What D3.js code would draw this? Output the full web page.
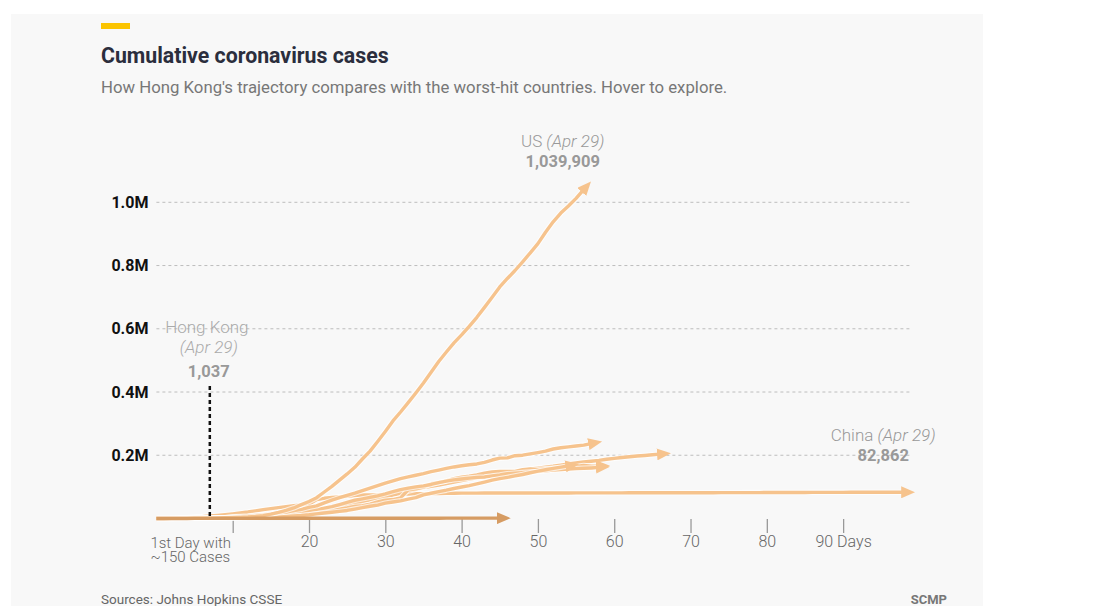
<!DOCTYPE html>
<html>
<head>
<meta charset="utf-8">
<script src="https://cdn.jsdelivr.net/npm/d3@7"></script>
<style>
  body { margin: 0; background: #fff; }
  text { font-family: Roboto, 'Noto Sans', sans-serif; }
</style>
</head>
<body>
<div id="chart-area"></div>
<script>
// cumulative cases, one value per day since each place's 1st day with ~150 cases
var chinaCases = [571, 830, 1287, 1975, 2744, 4515, 5974, 7711, 9692, 11791,
  14380, 17205, 20438, 24324, 28018, 31161, 34546, 37198, 40171, 42638, 44653, 59804, 63851, 66492, 68500,
  70548, 72436, 74185, 74576, 75077, 76288, 76936, 77150, 77658, 78064, 78497, 78824, 79251, 79824,
  80026, 80151, 80270, 80409, 80552, 80651, 80695, 80735, 80754, 80778, 80793, 80813, 80824, 80844, 80860,
  80881, 80894, 80928, 80967, 81008, 81054, 81093, 81171, 81218, 81285, 81340, 81394, 81439, 81470, 81518, 81554,
  81589, 81620, 81639, 81669, 81708, 81740, 81802, 81865, 81907, 81953, 82052, 82160, 82249, 82295, 82341,
  82367, 82692, 82719, 82735, 82747, 82758, 82788, 82798, 82804, 82816, 82827, 82830, 82836, 82862];
var italyCases = [155, 229, 322, 453, 655, 888, 1128,
  1694, 2036, 2502, 3089, 3858, 4636, 5883, 7375, 9172, 10149, 12462, 12462, 17660, 21157, 24747, 27980,
  31506, 35713, 41035, 47021, 53578, 59138, 63927, 69176, 74386, 80589, 86498, 92472, 97689, 101739, 105792,
  110574, 115242, 119827, 124632, 128948, 132547, 135586, 139422, 143626, 147577, 152271, 156363, 159516,
  162488, 165155, 168941, 172434, 175925, 178972, 181228, 183957, 187327, 189973, 192994, 195351, 197675,
  199414, 201505, 203591];
var franceCases = [191, 204, 288, 380, 656, 959, 1136, 1219, 1794, 2293, 2293, 3681, 4496, 4532, 6683,
  7715, 9124, 10970, 12758, 14463, 16243, 20123, 22622, 25600, 29551, 33402, 38105, 40708, 45170, 52827,
  57749, 59929, 65202, 90848, 93773, 98963, 110065, 113959, 118781, 125931, 130727, 133678, 137875, 143303,
  147091, 149130, 149149, 149150, 154188, 156921, 154715, 157026, 158636, 160292, 160847, 164589, 167605,
  165093, 165764];
var germanyCases = [159, 196, 262, 482, 670, 799, 1040, 1176, 1457, 1908, 2078, 3675, 4585, 5795, 7272,
  9257, 12327, 15320, 19848, 22213, 24873, 29056, 32986, 37323, 43938, 50871, 57695, 62095, 66885, 71808,
  77872, 84794, 91159, 96092, 100123, 103374, 107663, 113296, 118181, 122171, 124908, 127854, 130072,
  131359, 134753, 137698, 141397, 143342, 145184, 147065, 148291, 150648, 153129, 154999, 156513, 157770,
  158758, 159912, 161539];
var ukCases = [164, 207, 274, 322, 384, 459, 459, 802, 1144, 1145, 1551, 1960, 2642, 2716, 4014, 5067,
  5745, 6726, 8164, 9640, 11812, 14745, 17312, 19780, 22453, 25481,
  29865, 34173, 38689, 42477, 48436, 52279, 55949, 61474, 65872, 74605, 79874, 85206, 89570, 94845, 99483,
  104145, 109769, 115314, 121172, 125856, 130172, 134638, 139246, 144640, 149569, 154037, 158348, 162350,
  166441];
var spainCases = [165, 222, 259, 400, 500, 673, 1073, 1695, 2277, 2277, 5232, 6391, 7798, 9942, 11748,
  13910, 17963, 20410, 25374, 28768, 35136, 39885, 49515, 57786, 65719, 73235, 80110, 87956, 95923,
  104118, 112065, 119199, 126168, 131646, 136675, 141942, 148220, 153222, 158273, 163027, 166831, 170099,
  172541, 177644, 184948, 190839, 191726, 198674, 200210, 204178, 208389, 213024, 219764, 223759, 226629,
  229422, 232128, 236899];
var usCases = [158, 221, 319, 435, 541, 704, 994, 1301, 1630, 2183, 2770, 3613, 4596, 6344, 9197,
  13779, 19273, 25600, 33276, 43847, 53740, 65778, 83836, 101657, 121465, 140909, 161831, 188172,
  213242, 243622, 275367, 308650, 336802, 366317, 397121, 428654, 462780, 496535, 526396, 555313, 580619,
  607670, 636350, 667592, 699706, 732197, 759086, 784326, 811865, 840351, 869170, 905358, 938154, 965785,
  988197, 1012582, 1039909];
var hkCases = [148, 157, 162, 192, 208, 256, 273, 317, 356, 386, 410, 453, 518, 582, 641, 682, 715, 765,
  802, 845, 862, 890, 915, 935, 960, 973, 989, 1000, 1004, 1009, 1012, 1016, 1017, 1021, 1024, 1025, 1026,
  1029, 1033, 1034, 1035, 1036, 1036, 1037, 1037, 1037];

var countries = ['China', 'Italy', 'France', 'Germany', 'UK', 'Spain', 'US'];
var countryCases = [chinaCases, italyCases, franceCases, germanyCases, ukCases, spainCases, usCases];
var labelled = ['US', 'China'];
var lastDate = 'Apr 29';
var hkMarkerDay = 7;

var yTicks = [200000, 400000, 600000, 800000, 1000000];
var xTicks = [10, 20, 30, 40, 50, 60, 70, 80, 90];
var firstTickLines = ['1st Day with', '~150 Cases'];

var width = 1105, height = 606;
var lightColor = '#f6c38d', hkColor = '#d69c63';

var svg = d3.select('#chart-area')
  .append('svg')
    .attr('width', width)
    .attr('height', height);

// card background
svg.append('rect')
  .attr('x', 11).attr('y', 14)
  .attr('width', 972).attr('height', height - 14)
  .attr('fill', '#f8f8f8');

svg.append('rect')
  .attr('x', 101).attr('y', 23)
  .attr('width', 29).attr('height', 6)
  .attr('fill', '#fbc400');

svg.append('text')
  .attr('x', 101).attr('y', 63)
  .attr('font-size', '21.3px')
  .attr('font-weight', 'bold')
  .attr('fill', '#2b2e3d')
  .text('Cumulative coronavirus cases');

svg.append('text')
  .attr('x', 101).attr('y', 93)
  .attr('font-size', '16.75px')
  .attr('fill', '#777')
  .text("How Hong Kong's trajectory compares with the worst-hit countries. Hover to explore.");

var xScale = d3.scaleLinear()
  .domain([0, 99])
  .range([156.4, 911.8]);

var yScale = d3.scaleLinear()
  .domain([0, 1000000])
  .range([518.5, 202.3]);

// dashed gridlines
svg.append('g')
  .selectAll('line')
  .data(yTicks)
  .enter()
  .append('line')
    .attr('x1', xScale(0))
    .attr('x2', xScale(99))
    .attr('y1', d => yScale(d))
    .attr('y2', d => yScale(d))
    .attr('stroke', '#bdbdbd')
    .attr('stroke-dasharray', '3,3');

// y axis labels
var yAxisGroup = svg.append('g')
  .attr('transform', 'translate(' + xScale(0) + ', 0)')
  .call(d3.axisLeft(yScale)
    .tickValues(yTicks)
    .tickSize(0)
    .tickPadding(8)
    .tickFormat(d => (d / 1000000).toFixed(1) + 'M'));
yAxisGroup.select('.domain').remove();
yAxisGroup.selectAll('text')
  .attr('font-family', '"Liberation Sans", Arial, sans-serif')
  .attr('font-size', '16px')
  .attr('font-weight', 'bold')
  .attr('fill', '#111');

// x axis, first tick label is written separately below
var xAxisGroup = svg.append('g')
  .attr('transform', 'translate(0, 519)')
  .call(d3.axisBottom(xScale)
    .tickValues(xTicks)
    .tickSize(14)
    .tickPadding(3)
    .tickFormat(d => d === 10 ? '' : d === 90 ? '90 Days' : d));
xAxisGroup.select('.domain').remove();
xAxisGroup.selectAll('line')
  .attr('stroke', '#999')
  .attr('stroke-width', 1.3);
xAxisGroup.selectAll('text')
  .attr('font-family', 'Roboto, sans-serif')
  .attr('font-size', '16px')
  .attr('font-weight', 300)
  .attr('fill', '#666');

svg.append('g')
  .selectAll('text')
  .data(firstTickLines)
  .enter()
  .append('text')
    .attr('x', xScale(0) - 6)
    .attr('y', (d, i) => 548 + i * 14)
    .attr('text-anchor', 'start')
    .attr('font-size', '15px')
    .attr('font-weight', 300)
    .attr('fill', '#666')
    .text(d => d);

// arrow heads
var defs = svg.append('defs');
[['arrow-light', lightColor], ['arrow-hk', hkColor]].forEach(m => {
  defs.append('marker')
    .attr('id', m[0])
    .attr('viewBox', '0 -6 14 12')
    .attr('refX', 3)
    .attr('refY', 0)
    .attr('markerUnits', 'userSpaceOnUse')
    .attr('markerWidth', 14)
    .attr('markerHeight', 12)
    .attr('orient', 'auto')
    .append('path')
      .attr('d', 'M0,-6L14,0L0,6Z')
      .attr('fill', m[1]);
});

var line = d3.line()
  .x((d, i) => xScale(i))
  .y(d => yScale(d));

var lines = svg.append('g').attr('fill', 'none');

countryCases.forEach((cases, i) => {
  lines.append('path')
    .attr('d', line(cases))
    .attr('stroke', '#fff')
    .attr('stroke-opacity', 0.7)
    .attr('stroke-width', 5.5)
    .attr('stroke-linejoin', 'round');
  lines.append('path')
    .attr('class', 'line-' + countries[i])
    .attr('d', line(cases))
    .attr('stroke', lightColor)
    .attr('stroke-width', 3.4)
    .attr('stroke-linejoin', 'round')
    .attr('marker-end', 'url(#arrow-light)');
});

lines.append('path')
  .attr('d', line(hkCases))
  .attr('stroke', hkColor)
  .attr('stroke-width', 3.4)
  .attr('marker-end', 'url(#arrow-hk)');

// end labels for US and China
var labelLift = { US: 0, China: 8 };
labelled.forEach(name => {
  var cases = countryCases[countries.indexOf(name)];
  var lastDay = cases.length - 1;
  var cx = xScale(lastDay) - 21;
  var cy = yScale(cases[lastDay]) - labelLift[name];

  var nameText = svg.append('text')
    .attr('x', cx)
    .attr('y', cy - 43)
    .attr('text-anchor', 'middle')
    .attr('font-size', '17px')
    .attr('font-weight', 300)
    .attr('fill', '#999');
  nameText.append('tspan').text(name + ' ');
  nameText.append('tspan').attr('font-style', 'italic').text('(' + lastDate + ')');

  svg.append('text')
    .attr('x', cx)
    .attr('y', cy - 23)
    .attr('text-anchor', 'middle')
    .attr('font-size', '16.5px')
    .attr('font-weight', 'bold')
    .attr('fill', '#999')
    .text(d3.format(',')(cases[lastDay]));
});

// Hong Kong marker
var hkX = xScale(hkMarkerDay);
svg.append('line')
  .attr('x1', hkX).attr('x2', hkX)
  .attr('y1', 386).attr('y2', yScale(hkCases[hkMarkerDay]))
  .attr('stroke', '#111')
  .attr('stroke-width', 2.5)
  .attr('stroke-dasharray', '4,3');

svg.append('text')
  .attr('x', hkX - 3).attr('y', 333)
  .attr('text-anchor', 'middle')
  .attr('font-size', '17px')
  .attr('font-weight', 300)
  .attr('fill', '#aaa')
  .text('Hong Kong');

svg.append('text')
  .attr('x', hkX - 1).attr('y', 353)
  .attr('text-anchor', 'middle')
  .attr('font-size', '17px')
  .attr('font-weight', 300)
  .attr('font-style', 'italic')
  .attr('fill', '#aaa')
  .text('(' + lastDate + ')');

svg.append('text')
  .attr('x', hkX - 1).attr('y', 377)
  .attr('text-anchor', 'middle')
  .attr('font-size', '16.5px')
  .attr('font-weight', 'bold')
  .attr('fill', '#999')
  .text(d3.format(',')(hkCases[hkCases.length - 1]));

// footer
svg.append('text')
  .attr('x', 101).attr('y', 604)
  .attr('font-size', '13.5px')
  .attr('fill', '#666')
  .text('Sources: Johns Hopkins CSSE');

svg.append('text')
  .attr('x', 947).attr('y', 604)
  .attr('text-anchor', 'end')
  .attr('font-size', '13px')
  .attr('font-weight', 'bold')
  .attr('fill', '#777')
  .text('SCMP');
</script>
</body>
</html>
